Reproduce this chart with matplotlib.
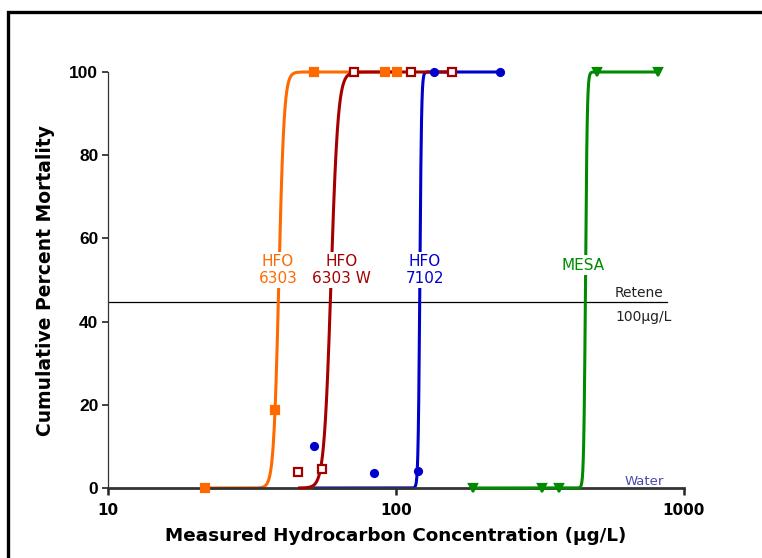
import numpy as np
import matplotlib
matplotlib.use("Agg")
import matplotlib.pyplot as plt
from matplotlib.patches import Rectangle

# measured points (concentration ug/L, % mortality)
hfo6303_x = [21.7, 38.0, 51.9, 91.6, 100.8]
hfo6303_y = [0, 18.7, 100, 100, 100]
hfo6303w_x = [45.7, 55.3, 71.4, 112.7, 156.0]
hfo6303w_y = [3.8, 4.6, 100, 100, 100]
hfo7102_x = [51.9, 83.9, 119.2, 135.5, 229.7]
hfo7102_y = [10.1, 3.6, 4.1, 100, 100]
mesa_x = [185.0, 321.0, 368.0, 499.0, 813.0]
mesa_y = [0, 0, 0, 100, 100]

# log-logistic fit parameters: EC50 and slope
fit_ec50 = [39.2, 59.5, 121.0, 455.0]
fit_slope = [48, 36, 150, 145]

retene_level = 44.7
retene_end = 870

colors = ["#ff6a00", "#a50000", "#0000cc", "#008a00"]

fig = plt.figure(figsize=(7.62, 5.58), dpi=100)
ax = fig.add_axes([108/762, 1-488/558, (684-108)/762, (488-72)/558])


def fit_line(xs, ec50, h):
    xx = np.geomspace(min(xs), max(xs), 800)
    return xx, 100.0/(1.0 + (ec50/xx)**h)


# (x, y, marker, filled, colour index, line zorder)
series = [
    (hfo6303_x, hfo6303_y, "s", True, 0, 1),
    (hfo7102_x, hfo7102_y, "o", True, 2, 2),
    (hfo6303w_x, hfo6303w_y, "s", False, 1, 3),
    (mesa_x, mesa_y, "v", True, 3, 4),
]
for xs, ys, mk, filled, i, z in series:
    c = colors[i]
    xx, yy = fit_line(xs, fit_ec50[i], fit_slope[i])
    ax.plot(xx, yy, color=c, lw=2.2, zorder=z, clip_on=False,
            solid_capstyle="butt")
    ax.plot(xs, ys, linestyle="none", marker=mk, ms=6.3 if mk != "o" else 5,
            mfc=c if filled else "white", mec=c, mew=1.6,
            zorder=5, clip_on=False)

# retene reference line
ax.plot([10, retene_end], [retene_level, retene_level], color="black",
        lw=0.9, zorder=0.5)
ax.text(576, retene_level + 0.6, "Retene", fontsize=10, color="#222222",
        va="bottom", ha="left")
ax.text(576, retene_level - 1.8, "100\u03bcg/L", fontsize=10, color="#222222",
        va="top", ha="left")
ax.text(727, 1.5, "Water", fontsize=9.5, color="#4a4aa8", ha="center",
        va="center")

lbl = dict(fontsize=11, ha="center", va="center", linespacing=1.2,
           zorder=6, bbox=dict(facecolor="white", edgecolor="none", pad=1.5))
ax.text(38.9, 52.4, "HFO\n6303", color=colors[0], **lbl)
ax.text(64.9, 52.4, "HFO\n6303 W", color=colors[1], **lbl)
ax.text(126, 52.4, "HFO\n7102", color=colors[2], **lbl)
ax.text(446, 53.6, "MESA", color=colors[3], **lbl)

ax.set_xscale("log")
ax.set_xlim(10, 1000)
ax.set_ylim(0, 100)
ax.set_xticks([10, 100, 1000])
ax.set_xticklabels(["10", "100", "1000"])
ax.xaxis.set_minor_locator(matplotlib.ticker.NullLocator())
ax.set_yticks([0, 20, 40, 60, 80, 100])

for s in ["top", "right"]:
    ax.spines[s].set_visible(False)
ax.spines["bottom"].set_linewidth(2.0)
ax.spines["bottom"].set_color("#333333")
ax.spines["left"].set_linewidth(0.9)
ax.spines["left"].set_color("#333333")
ax.tick_params(axis="x", direction="out", length=5, width=1.8,
               color="#222222", pad=6)
ax.tick_params(axis="y", direction="out", length=4, width=1.2,
               color="#222222", pad=3)
for t in ax.get_xticklabels():
    t.set_fontweight("bold")
    t.set_fontsize(11)
for t in ax.get_yticklabels():
    t.set_fontfamily("Liberation Sans")
    t.set_fontweight("bold")
    t.set_fontsize(12.5)

ax.set_xlabel("Measured Hydrocarbon Concentration (\u03bcg/L)",
              fontsize=13.2, fontweight="bold", labelpad=6)
ax.set_ylabel("Cumulative Percent Mortality", fontsize=13.5,
              fontweight="bold", labelpad=10)

# outer frame, right and bottom edges fall outside the image
fig.patches.append(Rectangle((8/762, -0.2), 1.0, 1.2 - 12/558,
                             transform=fig.transFigure, fill=False,
                             lw=2.4, edgecolor="black"))

fig.savefig("out.png", dpi=100)
